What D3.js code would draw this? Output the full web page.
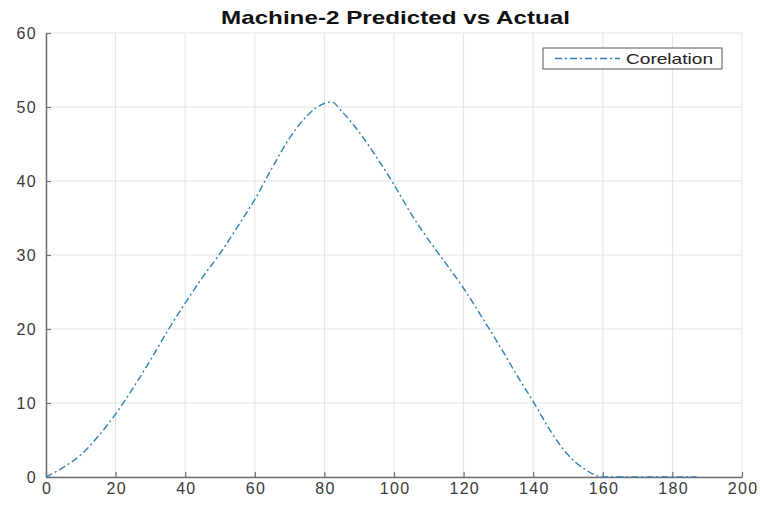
<html lang="en">
<head>
<meta charset="utf-8">
<title>Machine-2 Predicted vs Actual</title>
<script src="https://cdn.jsdelivr.net/npm/d3@7"></script>
<style>
  body { margin: 0; background: #fff; }
  text { font-family: "Liberation Sans", Arial, sans-serif; }
</style>
</head>
<body>
<script>
// values
var xs = [0, 5, 10, 15, 20, 25, 30, 35, 40, 45, 50, 55, 60, 65, 70, 75, 80, 82, 85, 90, 95, 100,
          105, 110, 115, 120, 125, 130, 135, 140, 145, 150, 155, 160, 165, 170, 175, 180, 187];
var corelation = [0, 1.3, 3, 5.5, 8.5, 12, 15.8, 19.8, 23.5, 27, 30.2, 33.8, 37.5, 41.8, 45.8, 48.8, 50.5, 50.7, 49.4, 46.6, 43.2, 39.5,
          35.5, 32, 28.8, 25.5, 21.8, 18, 14, 10.2, 6.2, 3, 1, 0, 0, 0, 0, 0, 0];
var xTicks = [0, 20, 40, 60, 80, 100, 120, 140, 160, 180, 200];
var yTicks = [0, 10, 20, 30, 40, 50, 60];
var title = "Machine-2 Predicted vs Actual";
var seriesName = "Corelation";

var w = 760, h = 509;
// plot box (window.top is taken, so use other names)
var pLeft = 46, pRight = 742, pTop = 33, pBottom = 477;

var svg = d3.select("body").append("svg").attr("width", w).attr("height", h);

var x = d3.scaleLinear().domain([0, 200]).range([pLeft, pRight]);
var y = d3.scaleLinear().domain([0, 60]).range([pBottom, pTop]);

// grid
svg.append("g").selectAll("line").data(xTicks).enter().append("line")
  .attr("x1", d => x(d)).attr("x2", d => x(d))
  .attr("y1", pTop).attr("y2", pBottom)
  .attr("stroke", "#e3e3e3").attr("stroke-width", 1);
svg.append("g").selectAll("line").data(yTicks).enter().append("line")
  .attr("y1", d => y(d)).attr("y2", d => y(d))
  .attr("x1", pLeft).attr("x2", pRight)
  .attr("stroke", "#e3e3e3").attr("stroke-width", 1);

// axes (ticks inside, like matlab)
var xAxis = d3.axisBottom(x).tickValues(xTicks).tickSizeInner(-5).tickSizeOuter(0).tickPadding(6);
var yAxis = d3.axisLeft(y).tickValues(yTicks).tickSizeInner(-5).tickSizeOuter(0).tickPadding(9);

var gx = svg.append("g").attr("transform", "translate(0," + pBottom + ")").call(xAxis);
var gy = svg.append("g").attr("transform", "translate(" + pLeft + ",0)").call(yAxis);
[gx, gy].forEach(function(g) {
  g.select(".domain").attr("stroke", "#707070").attr("stroke-width", 1.5);
  g.selectAll(".tick line").attr("stroke", "#707070").attr("stroke-width", 1.2);
  g.selectAll(".tick text").attr("fill", "#3a3a3a").attr("font-size", "16px")
    .style("font-family", "'Liberation Sans', Arial, sans-serif")
    .style("letter-spacing", "1.3px");
});
// letter-spacing adds a trailing gap, nudge x labels back to centre
gx.selectAll(".tick text").attr("dx", "0.65px");

// the curve
var line = d3.line()
  .x((d, i) => x(xs[i]))
  .y(d => y(d))
  .curve(d3.curveMonotoneX);

svg.append("path")
  .datum(corelation)
  .attr("d", line)
  .attr("fill", "none")
  .attr("stroke", "#2f7fb4")
  .attr("stroke-width", 1.4)
  .attr("stroke-dasharray", "7,3,2,3");

// title (the picture is a bit wide, so stretch the text)
svg.append("text")
  .attr("x", 221).attr("y", 24)
  .attr("font-size", "19px").attr("font-weight", "bold")
  .attr("fill", "#111")
  .attr("textLength", 349).attr("lengthAdjust", "spacingAndGlyphs")
  .text(title);

// legend
var lg = svg.append("g");
lg.append("rect")
  .attr("x", 543).attr("y", 48).attr("width", 179).attr("height", 21)
  .attr("fill", "#fff").attr("stroke", "#555").attr("stroke-width", 1);
lg.append("line")
  .attr("x1", 555).attr("x2", 620).attr("y1", 58.5).attr("y2", 58.5)
  .attr("stroke", "#2f7fb4").attr("stroke-width", 1.4)
  .attr("stroke-dasharray", "7,3,2,3");
lg.append("text")
  .attr("x", 626).attr("y", 64)
  .attr("font-size", "15px").attr("fill", "#222")
  .attr("textLength", 87).attr("lengthAdjust", "spacingAndGlyphs")
  .text(seriesName);
</script>
</body>
</html>
